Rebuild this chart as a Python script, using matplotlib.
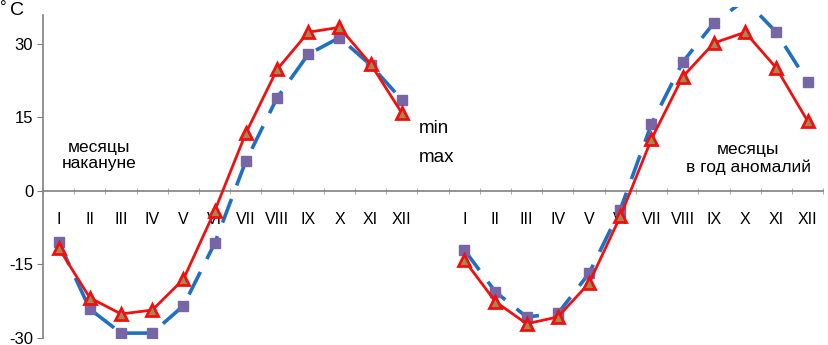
import matplotlib

matplotlib.use("Agg")
import matplotlib.pyplot as plt
import numpy as np

# Month labels: two years of months separated by one empty slot.
months = ["I", "II", "III", "IV", "V", "VI", "VII", "VIII", "IX", "X", "XI", "XII"]
tick_labels = months + [""] + months

# Temperatures (deg C), months before the anomaly year / in the anomaly year.
min_before = [-10.4, -24.1, -29.0, -29.0, -23.4, -10.7, 6.1, 19.0, 27.9, 31.3, 25.7, 18.6]
max_before = [-11.6, -21.8, -25.1, -24.3, -18.0, -4.1, 11.8, 24.8, 32.4, 33.4, 25.9, 15.9]
min_anom = [-12.0, -20.6, -25.7, -25.0, -16.8, -3.8, 13.7, 26.3, 34.3, 39.0, 32.4, 22.3]
max_anom = [-14.1, -22.6, -27.1, -25.7, -18.8, -5.2, 10.6, 23.3, 30.2, 32.4, 25.1, 14.3]

min_vals = np.array(min_before + [np.nan] + min_anom)
max_vals = np.array(max_before + [np.nan] + max_anom)
x = np.arange(len(tick_labels))

plt.rcParams["font.family"] = ["Liberation Sans", "DejaVu Sans"]
plt.rcParams["axes.unicode_minus"] = False

fig = plt.figure(figsize=(8.29, 3.45), dpi=100)
ax = fig.add_axes([0.0519, 0.0203, 0.941, 0.9587])

ax.plot(x, min_vals, color="#1f6fc4", lw=2.6, dashes=(7, 4),
        marker="s", ms=6.5, mfc="#7766a6", mec="#7766a6", zorder=3)
ax.plot(x, max_vals, color="#f01010", lw=2.0,
        marker="^", ms=8, mfc="#a08a52", mec="#f01010", mew=2.0, zorder=4)

ax.set_xlim(-0.5, len(tick_labels) - 0.5)
ax.set_ylim(-30, 37.5)

# axes: the zero line carries the month labels
for side in ("top", "right"):
    ax.spines[side].set_visible(False)
ax.spines["bottom"].set_position(("data", 0))
ax.spines["bottom"].set_color("#808080")
ax.spines["bottom"].set_linewidth(1.2)
ax.spines["left"].set_color("#808080")
ax.spines["left"].set_linewidth(1.2)
ax.spines["left"].set_bounds(-30, 36)

ax.set_yticks([-30, -15, 0, 15, 30])
ax.tick_params(axis="y", length=4, color="#808080", labelsize=12, pad=3)

ax.set_xticks(x, tick_labels)
ax.set_xticks(np.arange(-0.5, len(tick_labels)), minor=True)
ax.tick_params(axis="x", which="major", length=0, pad=15, labelsize=11.5)
ax.tick_params(axis="x", which="minor", length=4, color="#a0a0a0", direction="inout")

ax.text(1.3, 7.3, "месяцы\nнакануне", ha="center", va="center",
        fontsize=12.5, linespacing=1.1)
ax.text(22.1, 6.6, "месяцы\nв год аномалий", ha="center", va="center",
        fontsize=12.5, linespacing=1.2)

fig.text(0.0, 0.998, "°", ha="left", va="top", fontsize=12)
fig.text(0.012, 0.995, "C", ha="left", va="top", fontsize=14)

leg = ax.legend(["min", "max"], loc="upper left", bbox_to_anchor=(419 / 829, 1 - 120 / 345),
                bbox_transform=fig.transFigure, frameon=False, handlelength=0,
                handletextpad=0, borderpad=0, borderaxespad=0, labelspacing=0.65,
                prop={"size": 13.5})
for h in leg.legend_handles:
    h.set_visible(False)

fig.savefig("out.png", dpi=100)
plt.close(fig)
